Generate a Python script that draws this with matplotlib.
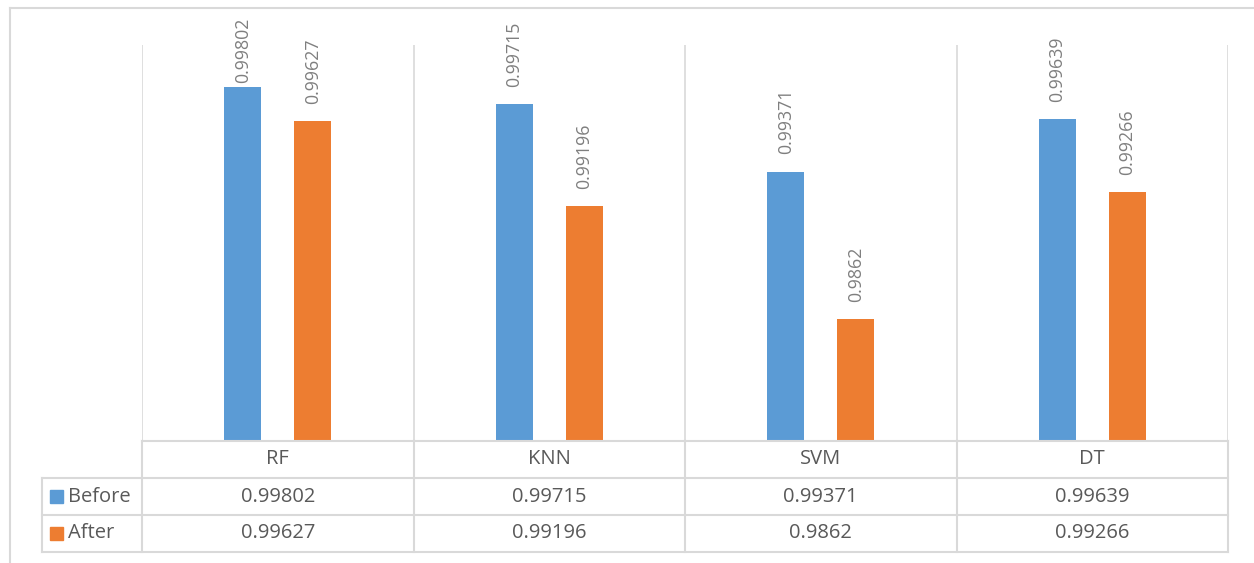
import numpy as np
import matplotlib
matplotlib.use('Agg')
import matplotlib.pyplot as plt
from matplotlib.patches import Rectangle

categories = ['RF', 'KNN', 'SVM', 'DT']
before = [0.99802, 0.99715, 0.99371, 0.99639]
after = [0.99627, 0.99196, 0.9862, 0.99266]
series_names = ['Before', 'After']

blue = '#5B9BD5'
orange = '#ED7D31'
grid = '#D9D9D9'
txt = '#595959'
lbl = '#7F7F7F'

plt.rcParams['font.family'] = ['Open Sans', 'DejaVu Sans']

W, H = 1254, 563
fig = plt.figure(figsize=(W / 100, H / 100), dpi=100)

def fx(px):
    return px / W

def fy(py):
    return 1 - py / H

# outer frame (top and left edges)
fig.add_artist(plt.Line2D([fx(10), fx(1254)], [fy(8), fy(8)], color=grid, lw=1.5))
fig.add_artist(plt.Line2D([fx(10), fx(10)], [fy(8), fy(563)], color=grid, lw=1.5))

# bar area
left, right, top, base = 142, 1228, 45, 441
ax = fig.add_axes([fx(left), fy(base), fx(right - left), fy(top) - fy(base)])
x = np.arange(len(categories))
off = 0.129
bw = 0.136
ax.bar(x - off, before, bw, color=blue)
ax.bar(x + off, after, bw, color=orange)
ax.set_xlim(-0.5, len(categories) - 0.5)
ax.set_ylim(0.98, 1.00015)
for s in ax.spines.values():
    s.set_visible(False)
ax.set_xticks([])
ax.set_yticks([])
for b in np.arange(-0.5, len(categories), 1.0):
    ax.axvline(b, color=grid, lw=1.2)

labels = []
for i in range(len(categories)):
    for xx, v in [(x[i] - off, before[i]), (x[i] + off, after[i])]:
        t = ax.annotate(str(v), (xx, v), xytext=(0, 12.5),
                        textcoords='offset points', rotation=90, ha='center', va='bottom',
                        fontsize=12.8, color=lbl, annotation_clip=False)
        labels.append(t)

# keep labels inside the chart top (Excel pushes them down)
fig.canvas.draw()
r = fig.canvas.get_renderer()
limit = (H - 18)
for t in labels:
    bb = t.get_window_extent(r)
    if bb.y1 > limit:
        ox, oy = t.xyann
        t.xyann = (ox, oy - (bb.y1 - limit) * 72 / fig.dpi)

# data table
tleft, tbot = 42, 552
cat_px = (right - left) / len(categories)
hdr_w = (left - tleft) / cat_px
tax = fig.add_axes([fx(tleft), fy(tbot), fx(right - tleft), fy(base) - fy(tbot)])
tax.set_xlim(-0.5 - hdr_w, len(categories) - 0.5)
tax.set_ylim(0, 3)
tax.axis('off')
lc = dict(color=grid, lw=1.5, clip_on=False)
tax.plot([-0.5, len(categories) - 0.5], [3, 3], **lc)
for yy in [2, 1, 0]:
    tax.plot([-0.5 - hdr_w, len(categories) - 0.5], [yy, yy], **lc)
tax.plot([-0.5 - hdr_w, -0.5 - hdr_w], [0, 2], **lc)
for b in np.arange(-0.5, len(categories), 1.0):
    tax.plot([b, b], [0, 3], **lc)

fs = 14.5
for i, c in enumerate(categories):
    tax.text(i, 2.5, c, ha='center', va='center', fontsize=fs, color=txt)
    tax.text(i, 1.5, str(before[i]), ha='center', va='center', fontsize=fs, color=txt)
    tax.text(i, 0.5, str(after[i]), ha='center', va='center', fontsize=fs, color=txt)

for row, name, col in [(1.5, series_names[0], blue), (0.5, series_names[1], orange)]:
    sq = 13 / cat_px
    tax.add_patch(Rectangle((-0.5 - hdr_w + 8 / cat_px, row - 0.17), sq, 0.34,
                            color=col, clip_on=False))
    tax.text(-0.5 - hdr_w + 26 / cat_px, row, name, ha='left', va='center',
             fontsize=fs, color=txt)

fig.savefig('out.png', dpi=100, facecolor='white')
